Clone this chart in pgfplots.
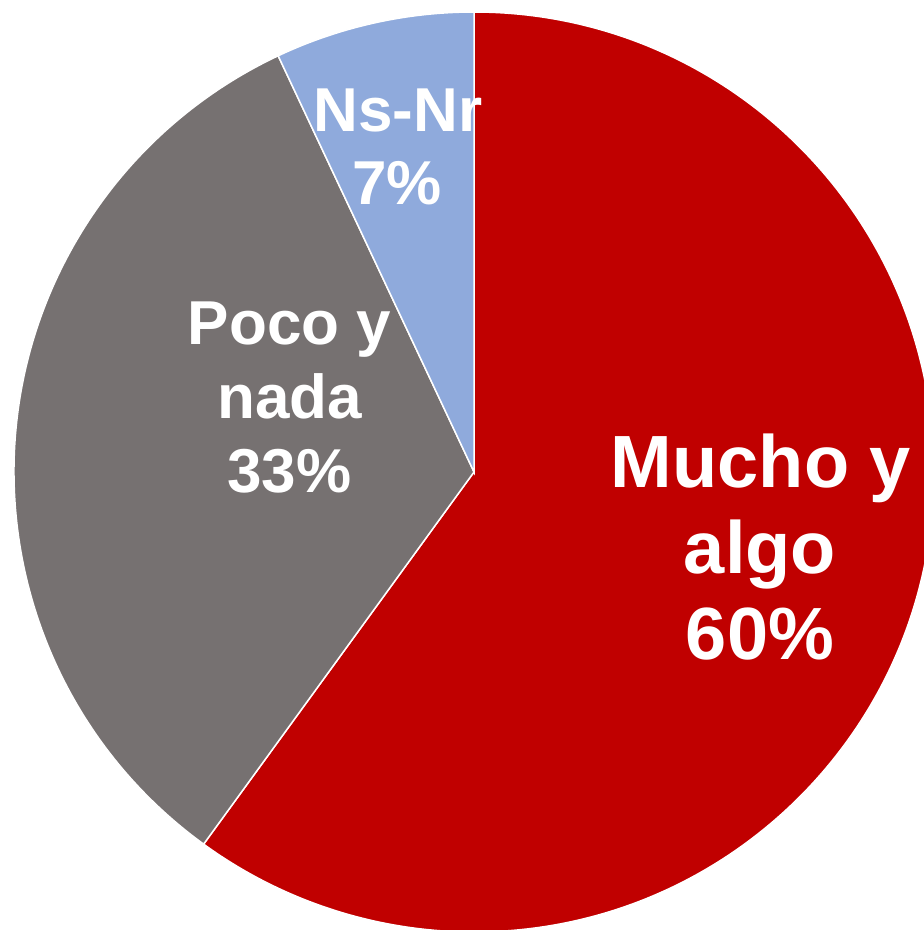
\documentclass[border=0pt]{standalone}
\usepackage{fontspec}
\setmainfont{Liberation Sans}
\usepackage{pgfplots}
\usepackage{pgfplotstable}
\pgfplotsset{compat=1.18}
\definecolor{cred}{HTML}{C00000}
\definecolor{cgray}{HTML}{767171}
\definecolor{cblue}{HTML}{8FAADC}
\pgfplotstableread{
label value
Mucho 60
Poco 33
NsNr 7
}\pietable
\begin{document}
\begin{tikzpicture}
\pgfplotstablegetelem{0}{value}\of\pietable \let\va\pgfplotsretval
\pgfplotstablegetelem{1}{value}\of\pietable \let\vb\pgfplotsretval
\pgfplotstablegetelem{2}{value}\of\pietable \let\vc\pgfplotsretval
\pgfmathsetmacro{\aA}{90}
\pgfmathsetmacro{\aB}{90-3.6*\va}
\pgfmathsetmacro{\aC}{\aB-3.6*\vb}
\pgfmathsetmacro{\aD}{\aC-3.6*\vc}
\begin{axis}[name=ax, at={(0,0)}, anchor=south west,
  width=924pt, height=930pt, scale only axis,
  xmin=0, xmax=924, ymin=0, ymax=930,
  hide axis, clip=true]
\filldraw[fill=cred, draw=white, line width=1.5pt] (axis cs:474,458) -- ++(\aA:460pt) arc[start angle=\aA, end angle=\aB, radius=460pt] -- cycle;
\filldraw[fill=cgray, draw=white, line width=1.5pt] (axis cs:474,458) -- ++(\aB:460pt) arc[start angle=\aB, end angle=\aC, radius=460pt] -- cycle;
\filldraw[fill=cblue, draw=white, line width=1.5pt] (axis cs:474,458) -- ++(\aC:460pt) arc[start angle=\aC, end angle=\aD, radius=460pt] -- cycle;
\begin{scope}[every node/.style={text=white, font=\bfseries\fontsize{74}{85}\selectfont, anchor=base, inner sep=0pt}]
\node at (axis cs:761,442) {Mucho y};
\node at (axis cs:760,356) {algo};
\node at (axis cs:760,270) {60\%};
\end{scope}
\begin{scope}[every node/.style={text=white, font=\bfseries\fontsize{62}{72}\selectfont, anchor=base, inner sep=0pt}]
\node at (axis cs:289.5,585) {Poco y};
\node at (axis cs:289.5,511) {nada};
\node at (axis cs:289.5,437) {33\%};
\node at (axis cs:398,798) {Ns-Nr};
\node at (axis cs:397,725) {7\%};
\end{scope}
\end{axis}
\pgfresetboundingbox
\path[use as bounding box] (ax.south west) rectangle (ax.north east);
\end{tikzpicture}
\end{document}
